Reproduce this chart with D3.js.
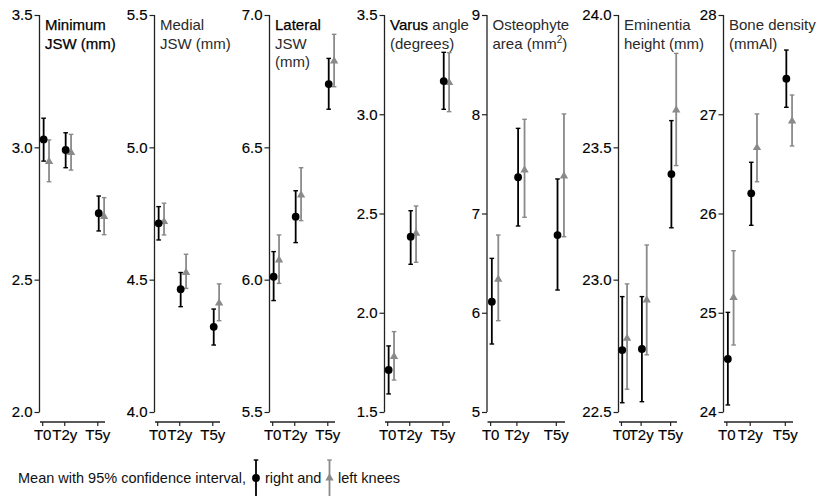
<!DOCTYPE html>
<html>
<head>
<meta charset="utf-8">
<script src="https://cdn.jsdelivr.net/npm/d3@7"></script>
<style>
  body { margin: 0; background: #fff; }
  svg { display: block; font-family: "Liberation Sans", Arial, sans-serif; }
</style>
</head>
<body>
<div id="chart"></div>
<script>
// time points (years) and their labels
const timeLabels = ["T0", "T2y", "T5y"];
const timeYears = [0, 2, 5];

// panel titles: lines of [text, emphasised, superscript]
const titles = [
  [[["Minimum", true]], [["JSW (mm)", true]]],
  [[["Medial", false]], [["JSW (mm)", false]]],
  [[["Lateral", true]], [["JSW", false]], [["(mm)", false]]],
  [[["Varus", true], [" angle", false]], [["(degrees)", false]]],
  [[["Osteophyte", false]], [["area (mm", false], ["2", false, true], [")", false]]],
  [[["Eminentia", false]], [["height (mm)", false]]],
  [[["Bone density", false]], [["(mmAl)", false]]]
];

const yDomains = [[2.0, 3.5], [4.0, 5.5], [5.5, 7.0], [1.5, 3.5], [5, 9], [22.5, 24.0], [24, 28]];
const yTicks = [
  [2.0, 2.5, 3.0, 3.5],
  [4.0, 4.5, 5.0, 5.5],
  [5.5, 6.0, 6.5, 7.0],
  [1.5, 2.0, 2.5, 3.0, 3.5],
  [5, 6, 7, 8, 9],
  [22.5, 23.0, 23.5, 24.0],
  [24, 25, 26, 27, 28]
];
const yDecimals = [1, 1, 1, 1, 0, 1, 0];

// right knee: mean and 95% CI
const rightMean = [
  [3.030, 2.990, 2.751], [4.713, 4.464, 4.322], [6.011, 6.238, 6.739],
  [1.712, 2.383, 3.167], [6.112, 7.365, 6.783], [22.734, 22.738, 23.399],
  [24.534, 26.203, 27.358]
];
const rightLo = [
  [2.948, 2.923, 2.684], [4.650, 4.398, 4.253], [5.921, 6.140, 6.644],
  [1.591, 2.244, 3.025], [5.685, 6.874, 6.229], [22.535, 22.539, 23.196],
  [24.071, 25.881, 27.070]
];
const rightHi = [
  [3.110, 3.055, 2.816], [4.776, 4.527, 4.389], [6.106, 6.336, 6.836],
  [1.833, 2.514, 3.312], [6.548, 7.858, 7.348], [22.936, 22.936, 23.601],
  [25.004, 26.516, 27.647]
];

// left knee: mean and 95% CI
const leftMean = [
  [2.946, 2.980, 2.738], [4.719, 4.527, 4.411], [6.074, 6.320, 6.826],
  [1.779, 2.400, 3.159], [6.337, 7.438, 7.378], [22.778, 22.923, 23.641],
  [25.152, 26.663, 26.932]
];
const leftLo = [
  [2.870, 2.914, 2.670], [4.669, 4.467, 4.345], [5.986, 6.223, 6.729],
  [1.661, 2.254, 3.013], [5.920, 6.962, 6.766], [22.586, 22.716, 23.431],
  [24.675, 26.320, 26.680]
];
const leftHi = [
  [3.028, 3.049, 2.810], [4.789, 4.596, 4.484], [6.169, 6.423, 6.927],
  [1.905, 2.538, 3.310], [6.783, 7.949, 8.003], [22.984, 23.131, 23.855],
  [25.625, 27.003, 27.194]
];

const legendText = ["Mean with 95% confidence interval,", "right and", "left knees"];

// layout
const W = 824, H = 496;
const panelLeft = [40, 155, 270, 385, 487.5, 619, 724];
const panelRight = [105, 220, 335, 450, 565, 677, 793];
const yTop = 15, yBottom = 412, xAxisY = 422;
const xDomain = [-0.2, 5.7];
const dodgeRight = 0.13, dodgeLeft = 0.62;
const black = "#000", grey = "#8a8a8a";

const svg = d3.select("#chart").append("svg")
  .attr("width", W).attr("height", H);

function errorBar(g, x, y1, y2, color) {
  g.append("line").attr("x1", x).attr("x2", x).attr("y1", y1).attr("y2", y2)
    .attr("stroke", color).attr("stroke-width", 1.8);
  [y1, y2].forEach(yy => {
    g.append("line").attr("x1", x - 2.3).attr("x2", x + 2.3).attr("y1", yy).attr("y2", yy)
      .attr("stroke", color).attr("stroke-width", 1.4);
  });
}

const triangle = d3.symbol().type(d3.symbolTriangle).size(30);

titles.forEach((title, i) => {
  const g = svg.append("g");
  const x = d3.scaleLinear().domain(xDomain).range([panelLeft[i], panelRight[i]]);
  const y = d3.scaleLinear().domain(yDomains[i]).range([yBottom, yTop]);

  // y axis
  const yAxis = g.append("g")
    .attr("transform", `translate(${panelLeft[i] - 0.5},0)`)
    .call(d3.axisLeft(y).tickValues(yTicks[i]).tickSize(5).tickPadding(2)
      .tickFormat(d3.format(`.${yDecimals[i]}f`)));
  yAxis.select(".domain").attr("d", `M0,${yBottom}V${yTop}`).attr("stroke", "#222").attr("stroke-width", 1.3);
  yAxis.selectAll(".tick line").attr("stroke", "#222").attr("stroke-width", 1.2);
  yAxis.selectAll(".tick text").attr("font-size", 15).attr("fill", "#000")
    .attr("stroke", "#000").attr("stroke-width", 0.15)
    .attr("font-family", "Liberation Sans, Arial, sans-serif");

  // x axis
  const xAxis = g.append("g")
    .attr("transform", `translate(0,${xAxisY})`)
    .call(d3.axisBottom(x).tickValues(timeYears).tickSize(4).tickPadding(3)
      .tickFormat((d, k) => timeLabels[k]));
  xAxis.select(".domain").attr("d", `M${panelLeft[i]},0H${panelRight[i]}`).attr("stroke", "#222").attr("stroke-width", 1.3);
  xAxis.selectAll(".tick line").attr("stroke", "#222").attr("stroke-width", 1.2);
  xAxis.selectAll(".tick text").attr("font-size", 15).attr("fill", "#000")
    .attr("stroke", "#000").attr("stroke-width", 0.15)
    .attr("font-family", "Liberation Sans, Arial, sans-serif");

  // title
  title.forEach((line, l) => {
    const t = g.append("text").attr("x", panelLeft[i] + 5).attr("y", 30 + l * 18.5)
      .attr("font-size", 15);
    line.forEach(([txt, strong, sup]) => {
      const s = t.append("tspan").text(txt)
        .attr("fill", strong ? "#000" : "#2a2a2a")
        .attr("stroke", strong ? "#000" : "none").attr("stroke-width", 0.25);
      if (sup) s.attr("font-size", 10).attr("dy", -6);
      else if (txt === ")") s.attr("dy", 6);
    });
  });

  // left knee (grey triangles)
  timeYears.forEach((t, k) => {
    const px = x(t + dodgeLeft);
    errorBar(g, px, y(leftHi[i][k]), y(leftLo[i][k]), grey);
    g.append("path").attr("d", triangle).attr("fill", grey)
      .attr("transform", `translate(${px},${y(leftMean[i][k])})`);
  });
  // right knee (black circles)
  timeYears.forEach((t, k) => {
    const px = x(t + dodgeRight);
    errorBar(g, px, y(rightHi[i][k]), y(rightLo[i][k]), black);
    g.append("circle").attr("cx", px).attr("cy", y(rightMean[i][k])).attr("r", 3.9).attr("fill", black);
  });
});

// legend
const lg = svg.append("g").attr("font-size", 14.5).attr("fill", "#111");
lg.append("text").attr("x", 18).attr("y", 483).text(legendText[0]);
errorBar(lg, 256, 460, 500, black);
lg.append("circle").attr("cx", 256).attr("cy", 478).attr("r", 3.9).attr("fill", black);
lg.append("text").attr("x", 265).attr("y", 483).text(legendText[1]);
errorBar(lg, 329.5, 460, 500, grey);
lg.append("path").attr("d", triangle).attr("fill", grey).attr("transform", "translate(329.5,478)");
lg.append("text").attr("x", 338).attr("y", 483).text(legendText[2]);
</script>
</body>
</html>
